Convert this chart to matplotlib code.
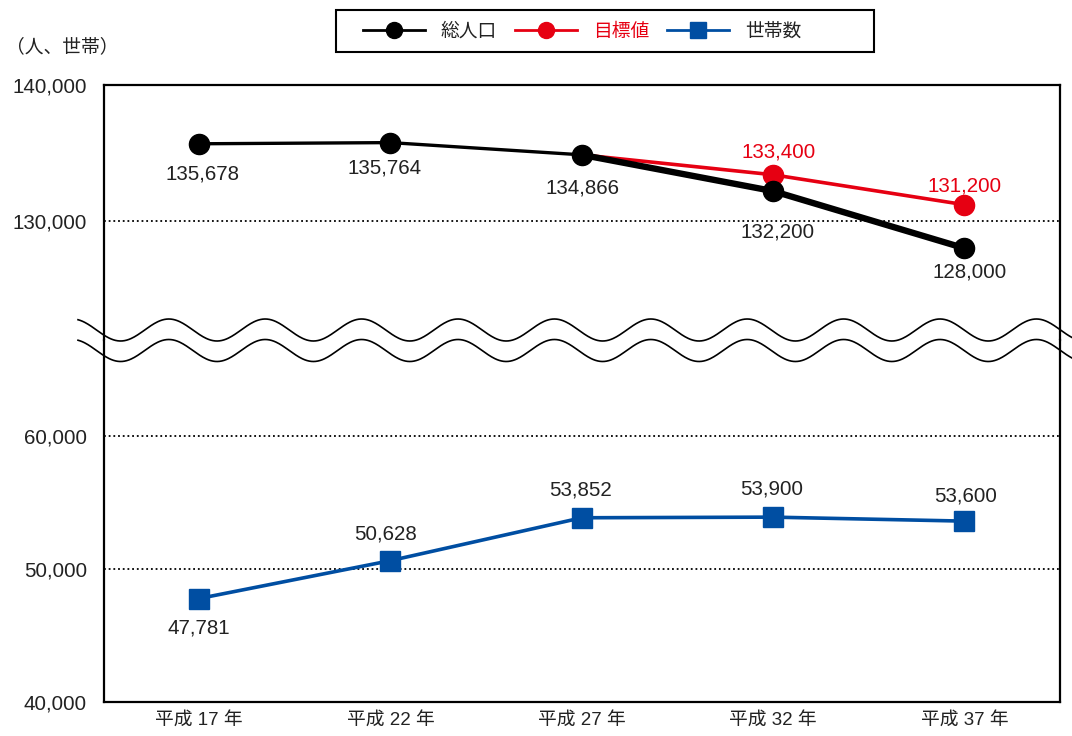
import matplotlib
matplotlib.use('Agg')
import matplotlib.pyplot as plt
from matplotlib.lines import Line2D
from matplotlib.patches import Rectangle
import numpy as np

# ---------------- data ----------------
years = ['平成 17 年', '平成 22 年', '平成 27 年', '平成 32 年', '平成 37 年']
total_pop = [135678, 135764, 134866, 132200, 128000]
target_idx = [2, 3, 4]
target = [134866, 133400, 131200]
households = [47781, 50628, 53852, 53900, 53600]

top_ticks = [130000, 140000]
bottom_ticks = [40000, 50000, 60000]
legend_labels = ['総人口', '目標値', '世帯数']
unit_label = '（人、世帯）'

# ---------------- style ----------------
RED = '#E60012'
BLUE = '#004EA2'
TXT = '#222222'
NUM = ['Liberation Sans', 'Noto Sans CJK JP']
JP = ['Noto Sans CJK JP', 'DejaVu Sans']
NUMSIZE = 14.8

W, H = 1072, 736
fig = plt.figure(figsize=(W / 100, H / 100), dpi=100)


def fx(px):
    return px / W


def fy(py):
    return 1 - py / H


L, R = 103.5, 1060
T, B, BRK = 85, 702, 340
ax_top = fig.add_axes([fx(L), fy(BRK), fx(R) - fx(L), fy(T) - fy(BRK)])
ax_bot = fig.add_axes([fx(L), fy(B), fx(R) - fx(L), fy(BRK) - fy(B)])

ax_top.set_ylim(140000 - (BRK - T) * 1000 / 13.6, 140000)
ax_bot.set_ylim(40000, 40000 + (B - BRK) * 1000 / 13.3)
x = np.arange(len(years))
for ax in (ax_top, ax_bot):
    ax.set_xlim(-0.5, len(years) - 0.5)
    ax.yaxis.grid(True, linestyle=(0, (1, 1.6)), color='black', lw=1.3)
    ax.set_axisbelow(True)
    ax.tick_params(axis='y', length=0, pad=12, labelsize=NUMSIZE, colors=TXT)
    ax.tick_params(axis='x', length=0)
    for s in ax.spines.values():
        s.set_linewidth(1.6)
        s.set_color('black')

ax_top.spines['bottom'].set_visible(False)
ax_bot.spines['top'].set_visible(False)
ax_top.set_xticks([])
ax_bot.set_xticks(x)
ax_bot.set_xticklabels(years, family=NUM, fontsize=13.5, color=TXT)
ax_bot.tick_params(axis='x', pad=7)

ax_top.set_yticks(top_ticks)
ax_top.set_yticklabels([f'{v:,}' for v in top_ticks], family=NUM)
ax_bot.set_yticks(bottom_ticks)
ax_bot.set_yticklabels([f'{v:,}' for v in bottom_ticks], family=NUM)

# ---------------- series ----------------
tx = [x[i] for i in target_idx]
ax_top.plot(tx, target, color=RED, lw=2.6, zorder=3, clip_on=False)
ax_top.plot(tx[1:], target[1:], 'o', color=RED, ms=14.5, zorder=4, clip_on=False)
ax_top.plot(x[:3], total_pop[:3], color='black', lw=2.4, zorder=5, clip_on=False)
ax_top.plot(x[2:], total_pop[2:], color='black', lw=4.6, zorder=5, clip_on=False)
ax_top.plot(x, total_pop, 'o', color='black', ms=14.5, zorder=6, clip_on=False)

ax_bot.plot(x, households, color=BLUE, lw=2.6, marker='s', ms=15, zorder=4, clip_on=False)

# ---------------- labels ----------------
pop_off = [(3, -30), (-6, -25), (1, -33), (5, -41), (5, -24)]
tgt_off = [None, (6, 23), (0, 19)]
hh_off = [(0, -29), (-5, 27), (-1, 28), (-1, 28), (1, 25)]

for i, v in enumerate(total_pop):
    ax_top.annotate(f'{v:,}', (x[i], v), xytext=pop_off[i], textcoords='offset pixels',
                    ha='center', va='center', fontsize=NUMSIZE, family=NUM, color=TXT,
                    zorder=7)
for j, v in enumerate(target):
    if tgt_off[j] is None:
        continue
    ax_top.annotate(f'{v:,}', (tx[j], v), xytext=tgt_off[j], textcoords='offset pixels',
                    ha='center', va='center', fontsize=NUMSIZE, family=NUM, color=RED, zorder=7)
for i, v in enumerate(households):
    ax_bot.annotate(f'{v:,}', (x[i], v), xytext=hh_off[i], textcoords='offset pixels',
                    ha='center', va='center', fontsize=NUMSIZE, family=NUM, color=TXT,
                    zorder=7)

# ---------------- axis break (wavy lines) ----------------
wx = np.linspace(78, W, 900)
P = 96.4
for c in (330, 350.5):
    wy = c + 11 * np.cos(2 * np.pi * (wx - 217) / P)
    fig.add_artist(Line2D(fx(wx), fy(wy), color='black', lw=1.2, transform=fig.transFigure))

# ---------------- unit label ----------------
fig.text(fx(6), fy(47), unit_label, family=JP, fontsize=13.5, ha='left', va='center', color=TXT)

# ---------------- legend ----------------
handles = [
    Line2D([], [], color='black', lw=2, marker='o', ms=11.5),
    Line2D([], [], color=RED, lw=2, marker='o', ms=11.5),
    Line2D([], [], color=BLUE, lw=2, marker='s', ms=11.5),
]
leg = fig.legend(handles, legend_labels, loc='center', bbox_to_anchor=(fx(582), fy(31)),
                 ncol=3, frameon=False, handlelength=3.3, handletextpad=0.85,
                 columnspacing=0.95, borderpad=0.3, prop={'family': JP, 'size': 13.5})
for t, c in zip(leg.get_texts(), [TXT, RED, TXT]):
    t.set_color(c)
fig.add_artist(Rectangle((fx(336), fy(52)), fx(874) - fx(336), fy(10) - fy(52),
                         transform=fig.transFigure, fill=False, ec='black', lw=1.5))

fig.savefig('out.png', dpi=100)
